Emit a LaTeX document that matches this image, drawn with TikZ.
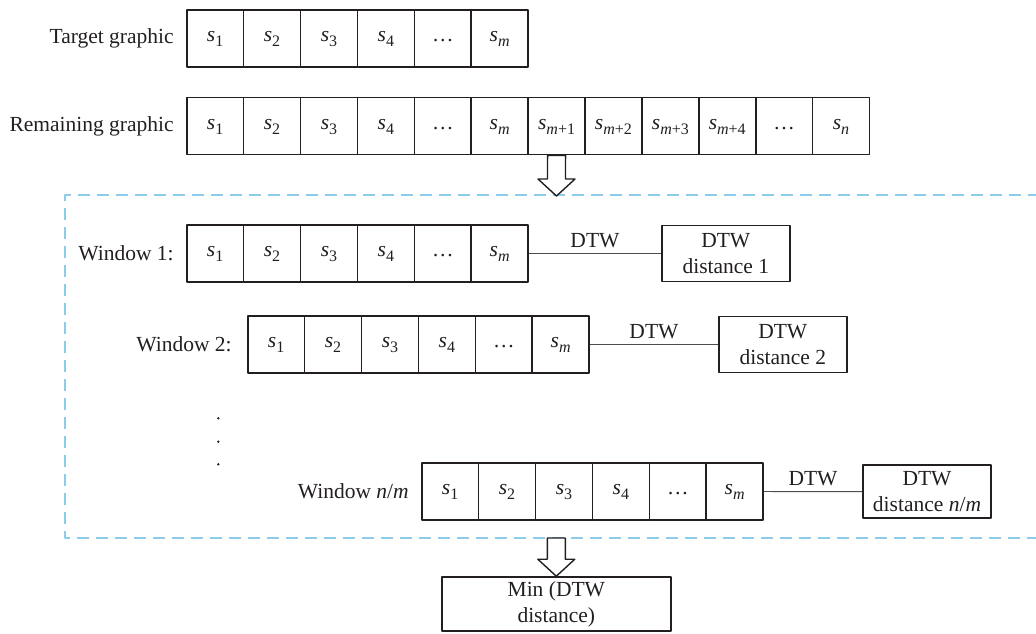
\documentclass[tikz,border=0pt]{standalone}
\usepackage{fontspec}
\setmainfont{Liberation Serif}
\usetikzlibrary{positioning}

\definecolor{inkgray}{RGB}{35,31,32}
\definecolor{framebl}{RGB}{140,204,234}

% s with a lowered index
\newcommand{\sv}[1]{\textit{s}\raisebox{-5pt}{\fontsize{16}{16}\selectfont #1}}
\newcommand{\shortrow}{\sv{1},\sv{2},\sv{3},\sv{4},\ldots,\sv{\textit{m}}}
\newcommand{\longrow}{\sv{1},\sv{2},\sv{3},\sv{4},\ldots,\sv{\textit{m}},\sv{\textit{m}+1},\sv{\textit{m}+2},\sv{\textit{m}+3},\sv{\textit{m}+4},\ldots,\sv{\textit{n}}}

% hollow block arrow pointing down: #1 start, #2 tip
\newcommand{\hollowdown}[2]{%
  \draw[hollow] ([xshift=-9pt]#1) -- ([xshift=-9pt,yshift=17pt]#2)
    -- ([xshift=-18.5pt,yshift=17pt]#2) -- (#2)
    -- ([xshift=18.5pt,yshift=17pt]#2) -- ([xshift=9pt,yshift=17pt]#2)
    -- ([xshift=9pt]#1) -- cycle;}

\begin{document}
\begin{tikzpicture}[x=1pt, y=-1pt, line join=round,
    every node/.style={text=inkgray, font=\fontsize{21.5}{26}\selectfont},
    cell/.style={draw=inkgray, line width=1.6pt, minimum width=56.9pt, minimum height=57pt,
      inner sep=0pt, text height=12pt, text depth=5.2pt},
    distbox/.style={draw=inkgray, line width=1.6pt, minimum width=128pt, minimum height=56pt,
      inner sep=2pt, align=center},
    rowlabel/.style={inner sep=2pt},
    link/.style={draw=inkgray!80, line width=0.9pt},
    hollow/.style={draw=inkgray, fill=white, line width=1.4pt},
    node distance=10pt]
  \useasboundingbox (0,0) rectangle (1036,633);

  % the two full series
  \foreach \lab [count=\i] in \shortrow
    \node[cell] (t\i) at ({186.7+56.9*(\i-0.5)},38.3) {\lab};
  \foreach \lab [count=\i] in \longrow
    \node[cell] (r\i) at ({186.7+56.9*(\i-0.5)},126) {\lab};
  \node[rowlabel, left=of t1] {Target graphic};
  \node[rowlabel, left=of r1] {Remaining graphic};

  % sliding windows
  \foreach \r/\x/\y in {w1/186.7/253.3, w2/247.7/344.5, w3/421.7/491.5}
    \foreach \lab [count=\i] in \shortrow
      \node[cell] (\r-\i) at ({\x+56.9*(\i-0.5)},\y) {\lab};
  \node[rowlabel, left=of w1-1] {Window 1:};
  \node[rowlabel, left=13pt of w2-1] {Window 2:};
  \node[rowlabel, left=of w3-1] {Window \textit{n}/\textit{m}};

  % vertical dots
  \fill[inkgray] (218.3,418.3) circle (1.3pt) (218.3,441.7) circle (1.3pt)
    (218.3,464.3) circle (1.3pt);

  % distances
  \node[distbox] (d1) at (725.8,253.3) {DTW\\distance 1};
  \node[distbox] (d2) at (782.8,344.5) {DTW\\distance 2};
  \node[distbox, minimum height=53pt] (d3) at (927,491.7) {DTW\\distance \textit{n}/\textit{m}};
  \draw[link] (w1-6) -- node[above, inner sep=5pt] {DTW} (d1);
  \draw[link] (w2-6) -- node[above, inner sep=5pt] {DTW} (d2);
  \draw[link] (w3-6) -- node[above, inner sep=5pt] {DTW} (d3);

  % dashed frame, open to the right
  \draw[framebl, line width=1.3pt, dash pattern=on 12pt off 7pt]
    (1040,195) -- (65,195) -- (65,538) -- (1040,538);

  % result
  \node[distbox, minimum width=229pt, minimum height=54pt] (minbox) at (556.3,604)
    {Min (DTW\\distance)};

  \coordinate (tipa) at (556.5,196);
  \coordinate (fb) at (556.3,538);
  \hollowdown{r7.south}{tipa}
  \hollowdown{fb}{minbox.north}
\end{tikzpicture}
\end{document}
